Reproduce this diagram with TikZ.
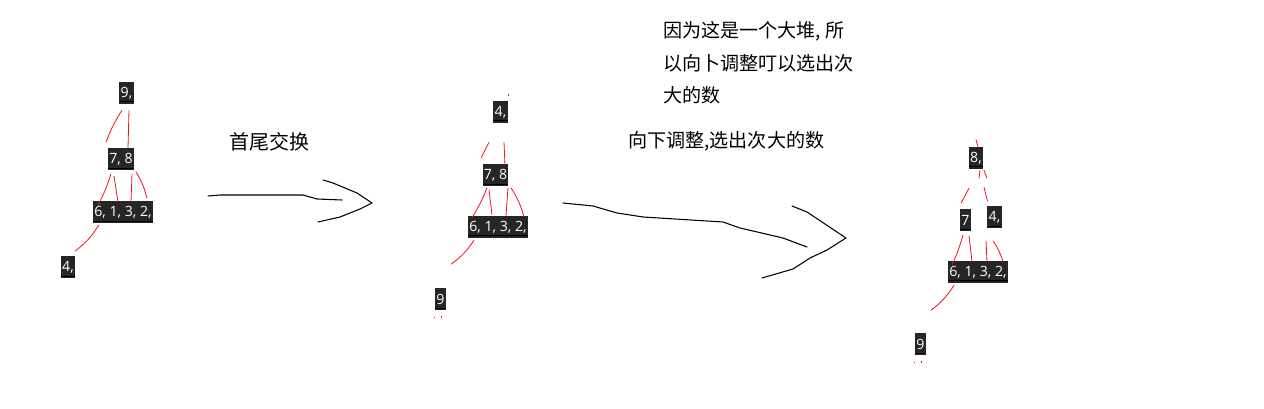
\documentclass[tikz,border=0pt]{standalone}
\usepackage{fontspec}
\setmainfont{Open Sans}
\newfontfamily\cjk{Noto Sans CJK SC}
\usetikzlibrary{positioning,calc}
\definecolor{boxgray}{RGB}{38,38,38}
\definecolor{inkred}{RGB}{232,20,30}

\begin{document}
\begin{tikzpicture}[
  x=0.75pt,y=-0.75pt,
  num/.style={fill=boxgray,text=white,font=\fontsize{10.6}{12}\selectfont,
    inner xsep=1pt,inner ysep=0pt,minimum height=16.5pt,
    path picture={\draw[black,line width=0.7pt]
      ([yshift=1.8pt]path picture bounding box.south west) --
      ([yshift=1.8pt]path picture bounding box.south east);}},
  link/.style={inkred,line width=0.6pt},
  stroke/.style={black,line width=0.8pt,line join=round,line cap=round},
  note/.style={font=\cjk\fontsize{14.3}{24.4}\selectfont,anchor=west,inner sep=0pt,align=left}
]
  \useasboundingbox (0,0) rectangle (1264,409);

  % first heap
  \node[num] (a9) at (126.5,93) {9,};
  \node[num] (a78) at (121,159.5) {7, 8};
  \node[num] (a6132) at (123,212.5) {6, 1, 3, 2,};
  \node[num] (a4) at (68,267.5) {4,};

  \draw[link] ($(a9.south)+(-4.5,6)$) to[bend right=6] ($(a78.north)+(-15,-6)$);
  \draw[link] ($(a9.south)+(2.5,6)$) -- ($(a78.north)+(7,0)$);
  \draw[link] ($(a78.south)+(-10,3)$) to[bend left=5] ($(a6132.north)+(-25,4)$);
  \draw[link] ($(a78.south)+(-7,5)$) -- ($(a6132.north)+(-5,1)$);
  \draw[link] ($(a78.south)+(11,3)$) -- ($(a6132.north)+(8,1)$);
  \draw[link] ($(a78.south)+(15,1)$) to[bend left=8] ($(a6132.north)+(24,-3)$);
  \draw[link] ($(a6132.south)+(-24,1)$) to[bend left=10] ($(a4.north)+(7,-5)$);

  % second heap
  \node[num] (b4) at (500.5,112) {4,};
  \node[num] (b78) at (495.5,175.5) {7, 8};
  \node[num] (b6132) at (498,227) {6, 1, 3, 2,};
  \node[num] (b9) at (440.5,299.5) {9};

  \draw[link] ($(b4.north)+(7.5,-7)$) -- ($(b4.north)+(7.5,-5)$);
  \draw[link] ($(b4.south)+(-11.5,19)$) -- ($(b78.north)+(-14.5,-6)$);
  \draw[link] ($(b4.south)+(3.5,19)$) -- ($(b78.north)+(9.5,1)$);
  \draw[link] ($(b78.south)+(-8.5,1)$) to[bend left=5] ($(b6132.north)+(-26,2)$);
  \draw[link] ($(b78.south)+(-6.5,3)$) -- ($(b6132.north)+(-6,-1)$);
  \draw[link] ($(b78.south)+(12.5,1)$) -- ($(b6132.north)+(8,0)$);
  \draw[link] ($(b78.south)+(15.5,1)$) to[bend left=8] ($(b6132.north)+(26,1)$);
  \draw[link] ($(b6132.south)+(-24,2)$) to[bend left=10] ($(b9.north)+(10.5,-24)$);
  \draw[link] ($(b9.south)+(-6,6)$) -- ($(b9.south)+(-6,7)$);
  \draw[link] ($(b9.south)+(1,5)$) -- ($(b9.south)+(1,7)$);

  % third heap
  \node[num] (c8) at (976,158) {8,};
  \node[num] (c7) at (965.5,220.5) {7};
  \node[num] (c4) at (994.5,217.5) {4,};
  \node[num] (c6132) at (978,272) {6, 1, 3, 2,};
  \node[num] (c9) at (920.5,344.5) {9};

  \draw[link] ($(c8.north)+(0,-7)$) -- ($(c8.north)+(2,0)$);
  \draw[link] ($(c8.south)+(-7,19)$) -- ($(c7.north)+(-4.5,-6)$);
  \draw[link] ($(c8.south)+(4,1)$) -- ($(c8.south)+(3,9)$);
  \draw[link] ($(c8.south)+(8,1)$) -- ($(c8.south)+(11,9)$);
  \draw[link] ($(c8.south)+(8,18)$) -- ($(c4.north)+(-7,-5)$);
  \draw[link] ($(c7.south)+(-2.5,3)$) to[bend left=5] ($(c6132.north)+(-26,4)$);
  \draw[link] ($(c7.south)+(3.5,4)$) -- ($(c6132.north)+(-6,1)$);
  \draw[link] ($(c4.south)+(-8.5,12)$) -- ($(c6132.north)+(9,1)$);
  \draw[link] ($(c4.south)+(-1.5,12)$) to[bend left=8] ($(c6132.north)+(25,1)$);
  \draw[link] ($(c6132.south)+(-24,2)$) to[bend left=10] ($(c9.north)+(10.5,-23)$);
  \draw[link] ($(c9.south)+(-6,6)$) -- ($(c9.south)+(-6,7)$);
  \draw[link] ($(c9.south)+(1,5)$) -- ($(c9.south)+(1,7)$);

  % swap arrow
  \node[note,font=\cjk\fontsize{15}{18}\selectfont] (swap) at (229,142) {首尾交换};
  \draw[stroke] (208,196) -- (220,195) -- (303,195) -- (317,199) -- (342,200);
  \draw[stroke] (323,180) -- (333,183) -- (357,193) -- (372,203) -- (360,209)
    -- (340,217) -- (318,222);

  % sift-down arrow
  \node[note] (sift) at (628,141) {向下调整,选出次大的数};
  \node[note] (why) at (663,63) {因为这是一个大堆, 所\\以向卜调整叮以选出次\\大的数};
  \draw[stroke] (563,203) -- (593,206) -- (617,213) -- (643,217) -- (723,222)
    -- (740,228) -- (783,238) -- (807,247);
  \draw[stroke] (792,206) -- (807,212) -- (837,232) -- (846,238) -- (827,250)
    -- (810,258) -- (793,269) -- (762,278);
\end{tikzpicture}
\end{document}
